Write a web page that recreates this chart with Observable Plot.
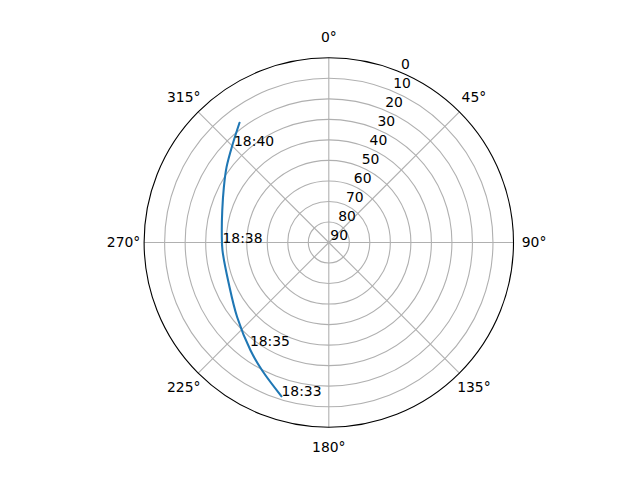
<!DOCTYPE html>
<html><head><meta charset="utf-8">
<script src="https://cdn.jsdelivr.net/npm/d3@7"></script>
<script src="https://cdn.jsdelivr.net/npm/@observablehq/plot@0.6"></script>
<style>body{margin:0;background:#fff}</style>
</head><body><div id="chart"></div>
<script>
// Satellite pass: azimuth (deg, clockwise from north) and elevation (deg)
const trackAz = [197.1, 207.5, 215.9, 230.8, 247.6, 265.7, 274.6, 286.7, 297.8, 306.4, 315.8, 323.3];
const trackEl = [11.6, 19.7, 25.0, 32.4, 37.3, 38.05, 37.7, 35.8, 32.2, 28.1, 22.9, 17.2];
const timeLabels = ["18:33", "18:35", "18:38", "18:40"];
const timeAz = [197.1, 217.2, 269.5, 315.6];
const timeEl = [11.6, 26.4, 38.2, 24.0];
const rTicks = [0, 10, 20, 30, 40, 50, 60, 70, 80, 90];
const thetaTicks = [0, 45, 90, 135, 180, 225, 270, 315];

const rad = Math.PI / 180;
const px = (az, el) => (90 - el) * Math.sin(az * rad);
const py = (az, el) => (90 - el) * Math.cos(az * rad);

const track = trackAz.map((az, i) => ({az, el: trackEl[i]}));
const times = timeLabels.map((t, i) => ({t, az: timeAz[i], el: timeEl[i]}));
const rings = rTicks.filter(r => r < 90 && r > 0);

const cx = 328.3, cy = 242, R = 184.7;
const font = "DejaVu Sans, sans-serif";
const fs = 13.9;

const chart = Plot.plot({
  width: 640,
  height: 480,
  style: {fontFamily: font, fontSize: fs + "px", background: "white", overflow: "visible"},
  x: {domain: [-90, 90], range: [cx - R, cx + R], axis: null},
  y: {domain: [-90, 90], range: [cy + R, cy - R], axis: null},
  r: {type: "linear", domain: [0, 90], range: [0, R]},
  marks: [
    // radial grid circles
    Plot.dot(rings, {x: () => 0, y: () => 0, r: d => 90 - d, fill: "none", stroke: "#b0b0b0", strokeWidth: 1.1}),
    // angular spokes
    Plot.link(thetaTicks, {x1: () => 0, y1: () => 0, x2: d => px(d, 0), y2: d => py(d, 0), stroke: "#b0b0b0", strokeWidth: 1.1}),
    // outer frame
    Plot.dot([0], {x: () => 0, y: () => 0, r: () => 90, fill: "none", stroke: "black", strokeWidth: 1.1}),
    // radial tick labels
    Plot.text(rTicks, {x: d => px(22.5, d), y: d => py(22.5, d), text: d => String(d), textAnchor: "start", lineAnchor: "bottom", dx: 1.5, dy: -3, fontSize: fs, fill: "black"}),
    // angular tick labels
    Plot.text(thetaTicks, {x: d => px(d, -10), y: d => py(d, -10), text: d => d + "°", textAnchor: "middle", lineAnchor: "middle", fontSize: fs, fill: "black"}),
    // track
    Plot.line(track, {x: d => px(d.az, d.el), y: d => py(d.az, d.el), stroke: "#1f77b4", strokeWidth: 2.08, curve: "catmull-rom"}),
    // time labels
    Plot.text(times, {x: d => px(d.az, d.el), y: d => py(d.az, d.el), text: "t", textAnchor: "start", lineAnchor: "bottom", fontSize: fs, fill: "black"})
  ]
});
document.getElementById("chart").appendChild(chart);
</script>
</body></html>
